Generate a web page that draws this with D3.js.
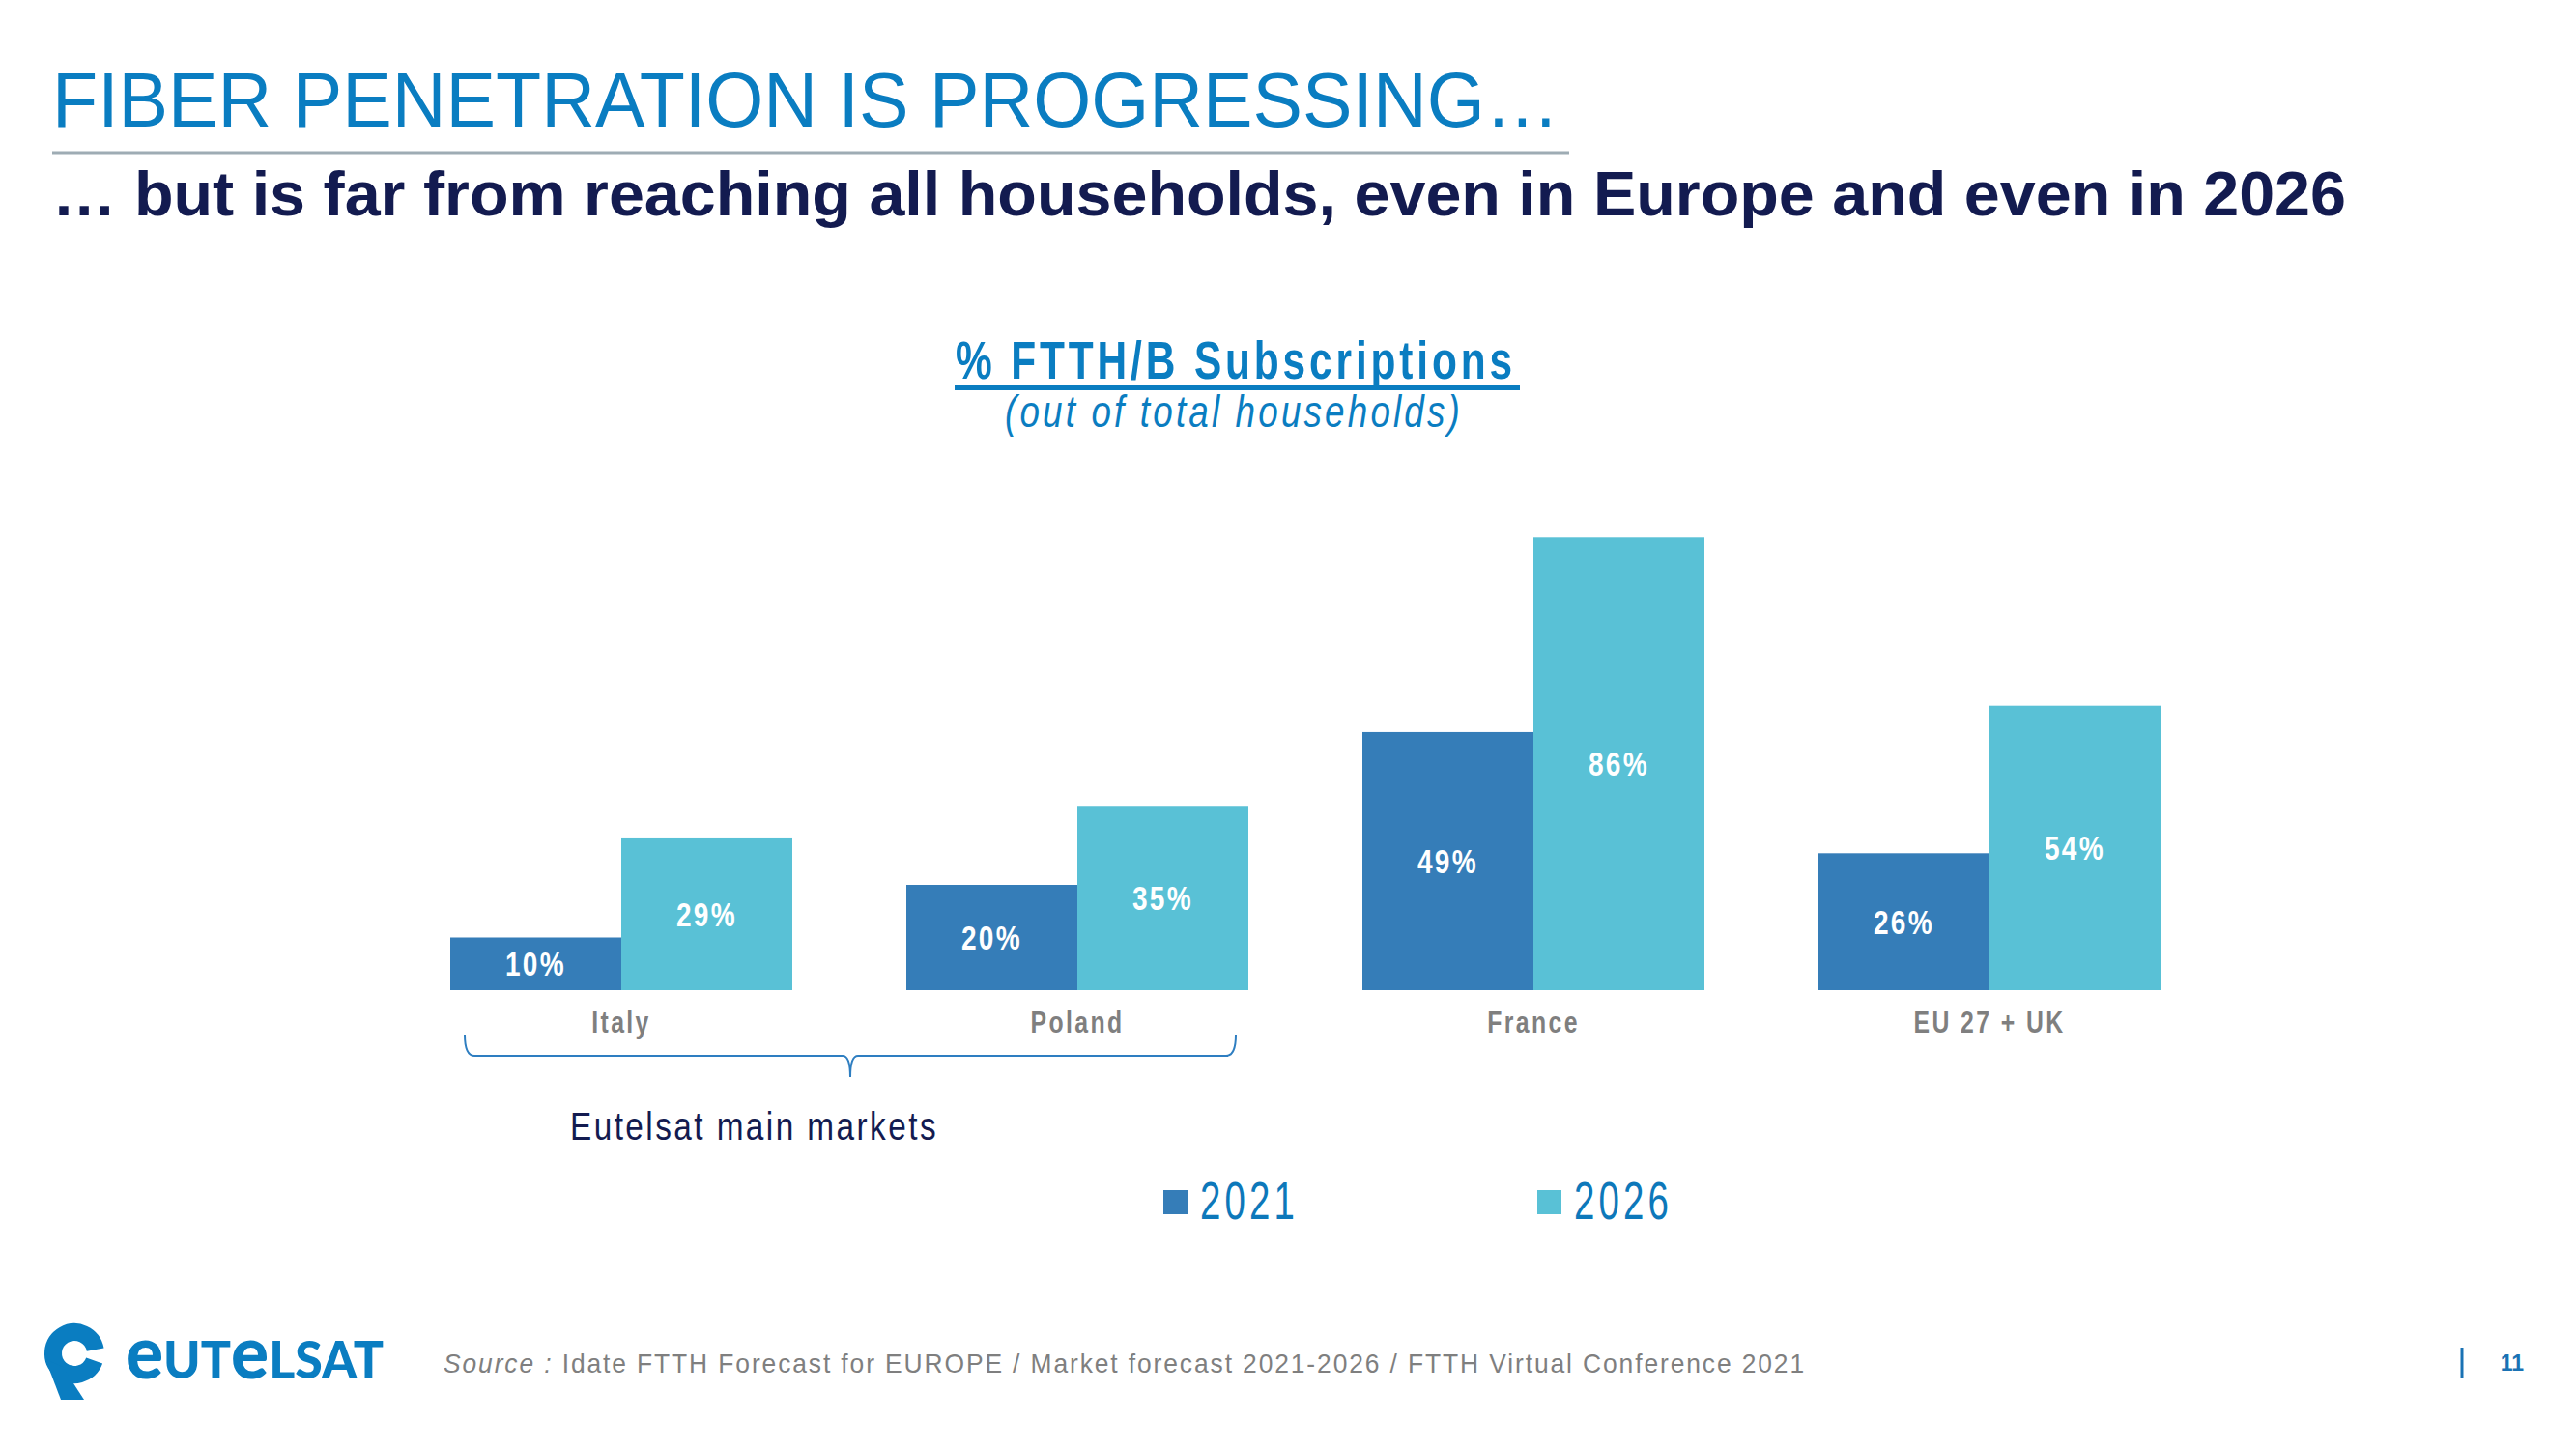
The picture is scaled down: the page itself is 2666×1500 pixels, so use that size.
<!DOCTYPE html>
<html>
<head>
<meta charset="utf-8">
<script src="https://cdn.jsdelivr.net/npm/d3@7"></script>
<style>
  html, body { margin: 0; padding: 0; background: #ffffff; }
  svg { display: block; }
  .narrow { font-family: "Liberation Sans Narrow", "Arial Narrow", "Liberation Sans", Arial, sans-serif; }
  .sans { font-family: "Liberation Sans", Arial, sans-serif; }
</style>
</head>
<body>
<svg id="chart" width="2666" height="1500"></svg>
<script>
// ---- data ----
const categories = ["Italy", "Poland", "France", "EU 27 + UK"];
const seriesNames = ["2021", "2026"];
const values2021 = [10, 20, 49, 26];
const values2026 = [29, 35, 86, 54];
const mainMarkets = ["Italy", "Poland"];

const titleText = "FIBER PENETRATION IS PROGRESSING\u2026";
const subtitleText = "\u2026 but is far from reaching all households, even in Europe and even in 2026";
const chartTitle = "% FTTH/B Subscriptions";
const chartSubtitle = "(out of total households)";
const braceLabel = "Eutelsat main markets";
const sourceLabel = "Source :";
const sourceText = " Idate FTTH Forecast for EUROPE / Market forecast 2021-2026 / FTTH Virtual Conference 2021";
const pageNumber = "11";

// ---- styles ----
const C2021 = "#357db8";
const C2026 = "#59c1d6";
const BLUE = "#0a7dc1";
const NAVY = "#131b50";
const GRAY = "#7f7f7f";

const svg = d3.select("#chart");

// emulate a narrow, letter-spaced face: squeeze measured width
function narrowify(sel, factor) {
  sel.each(function () {
    const w = this.getComputedTextLength();
    d3.select(this).attr("textLength", w * factor).attr("lengthAdjust", "spacingAndGlyphs");
  });
}

// ---- scales ----
const x = d3.scaleBand().domain(categories).range([407, 2295]).paddingInner(0.25).paddingOuter(0.125);
const xs = d3.scaleBand().domain(seriesNames).range([0, x.bandwidth()]).padding(0);
const y = d3.scaleLinear().domain([0, 100]).range([1025, 480]);
const color = d3.scaleOrdinal().domain(seriesNames).range([C2021, C2026]);

const rows = categories.map((c, i) => ({ cat: c, vals: [
  { s: "2021", v: values2021[i] }, { s: "2026", v: values2026[i] } ] }));

// ---- header ----
svg.append("text").attr("class", "sans")
  .attr("x", 54).attr("y", 131)
  .attr("font-size", 80).attr("fill", BLUE)
  .attr("textLength", 1560).attr("lengthAdjust", "spacingAndGlyphs")
  .text(titleText);

svg.append("line").attr("x1", 54).attr("x2", 1624).attr("y1", 158).attr("y2", 158)
  .attr("stroke", "#9eacb4").attr("stroke-width", 3);

svg.append("text").attr("class", "sans")
  .attr("x", 54).attr("y", 223)
  .attr("font-size", 64).attr("font-weight", "bold").attr("fill", NAVY)
  .attr("textLength", 2374).attr("lengthAdjust", "spacingAndGlyphs")
  .text(subtitleText);

// ---- chart title ----
svg.append("text").attr("class", "narrow")
  .attr("x", 1279).attr("y", 392).attr("text-anchor", "middle")
  .attr("font-size", 55).attr("font-weight", "bold").attr("fill", BLUE)
  .attr("letter-spacing", 5)
  .attr("textLength", 580).attr("lengthAdjust", "spacingAndGlyphs")
  .text(chartTitle);
svg.append("rect").attr("x", 988).attr("y", 399).attr("width", 585).attr("height", 5).attr("fill", BLUE);

svg.append("text").attr("class", "narrow")
  .attr("x", 1277).attr("y", 442).attr("text-anchor", "middle")
  .attr("font-size", 47).attr("font-style", "italic").attr("fill", BLUE)
  .attr("letter-spacing", 4)
  .attr("textLength", 474).attr("lengthAdjust", "spacingAndGlyphs")
  .text(chartSubtitle);

// ---- bars ----
const g = svg.append("g");
const groups = g.selectAll("g.grp").data(rows).join("g")
  .attr("class", "grp").attr("transform", d => `translate(${x(d.cat)},0)`);

groups.selectAll("rect").data(d => d.vals).join("rect")
  .attr("x", d => xs(d.s)).attr("width", xs.bandwidth())
  .attr("y", d => y(d.v)).attr("height", d => y(0) - y(d.v))
  .attr("fill", d => color(d.s));

groups.selectAll("text.val").data(d => d.vals).join("text")
  .attr("class", "val narrow")
  .attr("x", d => xs(d.s) + xs.bandwidth() / 2)
  .attr("y", d => (y(d.v) + y(0)) / 2)
  .attr("dy", "0.36em")
  .attr("text-anchor", "middle")
  .attr("font-size", 35).attr("font-weight", "bold").attr("fill", "#ffffff")
  .attr("letter-spacing", 3)
  .text(d => d.v + "%")
  .call(narrowify, 0.8);

// ---- category axis ----
const axis = svg.append("g").attr("transform", `translate(0,${y(0)})`)
  .call(d3.axisBottom(x).tickSize(0).tickPadding(44));
axis.select(".domain").remove();
axis.selectAll("text")
  .attr("font-size", 31).attr("font-weight", "bold").attr("fill", GRAY)
  .attr("letter-spacing", 3).attr("dy", 0)
  .style("font-family", "'Liberation Sans Narrow','Arial Narrow','Liberation Sans',Arial,sans-serif")
  .call(narrowify, 0.8);

// ---- brace for main markets ----
const bx0 = x(mainMarkets[0]) + 15;
const bx1 = x(mainMarkets[1]) + x.bandwidth() - 13;
const bm = (bx0 + bx1) / 2;
const bTop = 1071, bMid = 1093, bTip = 1115;
svg.append("path")
  .attr("d", `M${bx0},${bTop} Q${bx0},${bMid} ${bx0 + 10},${bMid} L${bm - 8},${bMid} Q${bm},${bMid} ${bm},${bTip} Q${bm},${bMid} ${bm + 8},${bMid} L${bx1 - 10},${bMid} Q${bx1},${bMid} ${bx1},${bTop}`)
  .attr("fill", "none").attr("stroke", "#2e7ec1").attr("stroke-width", 2);

svg.append("text").attr("class", "narrow")
  .attr("x", 590).attr("y", 1180)
  .attr("font-size", 41).attr("fill", NAVY)
  .attr("letter-spacing", 3)
  .attr("textLength", 381).attr("lengthAdjust", "spacingAndGlyphs")
  .text(braceLabel);

// ---- legend ----
const legX = d3.scaleOrdinal().domain(seriesNames).range([1204, 1591]);
const leg = svg.append("g").selectAll("g").data(seriesNames).join("g")
  .attr("transform", d => `translate(${legX(d)},0)`);
leg.append("rect").attr("x", 0).attr("y", 1232).attr("width", 25).attr("height", 25)
  .attr("fill", d => color(d));
leg.append("text").attr("class", "narrow")
  .attr("x", 38).attr("y", 1262)
  .attr("font-size", 56).attr("fill", "#0d78ba")
  .attr("letter-spacing", 6)
  .attr("textLength", 102).attr("lengthAdjust", "spacingAndGlyphs")
  .text(d => d);

// ---- footer ----
const logo = svg.append("g");
const cx = 77, cy = 1401, r = 22;
const a0 = -10 * Math.PI / 180, a1 = 20 * Math.PI / 180;
logo.append("path")
  .attr("d", `M${cx + r * Math.cos(a0)},${cy + r * Math.sin(a0)} A${r},${r} 0 1 0 ${cx + r * Math.cos(a1)},${cy + r * Math.sin(a1)}`)
  .attr("fill", "none").attr("stroke", BLUE).attr("stroke-width", 18);
logo.append("path")
  .attr("d", `M${cx - 30},${cy + 6} L${cx - 12},${cy + 14} L${cx + 10},${cy + 48} L${cx - 14},${cy + 48} Z`)
  .attr("fill", BLUE);

const lt = svg.append("text").attr("x", 130).attr("y", 1427)
  .attr("font-family", "Lato, 'Liberation Sans', sans-serif").attr("font-weight", 900)
  .attr("font-size", 54).attr("fill", BLUE)
  .attr("textLength", 267).attr("lengthAdjust", "spacingAndGlyphs");
[["e", 76], ["UT", 54], ["e", 76], ["LSAT", 54]].forEach(([t, s]) =>
  lt.append("tspan").attr("font-size", s).text(t));

const src = svg.append("text").attr("class", "narrow")
  .attr("x", 459).attr("y", 1421)
  .attr("font-size", 28).attr("fill", GRAY)
  .attr("letter-spacing", 2)
  .attr("textLength", 1410).attr("lengthAdjust", "spacingAndGlyphs");
src.append("tspan").attr("font-style", "italic").text(sourceLabel);
src.append("tspan").text(sourceText);

svg.append("line").attr("x1", 2548).attr("x2", 2548).attr("y1", 1395).attr("y2", 1426)
  .attr("stroke", "#1a72b4").attr("stroke-width", 3);
svg.append("text").attr("class", "sans")
  .attr("x", 2600).attr("y", 1419).attr("text-anchor", "middle")
  .attr("font-size", 23).attr("font-weight", "bold").attr("fill", "#1a72b4")
  .text(pageNumber);
</script>
</body>
</html>
